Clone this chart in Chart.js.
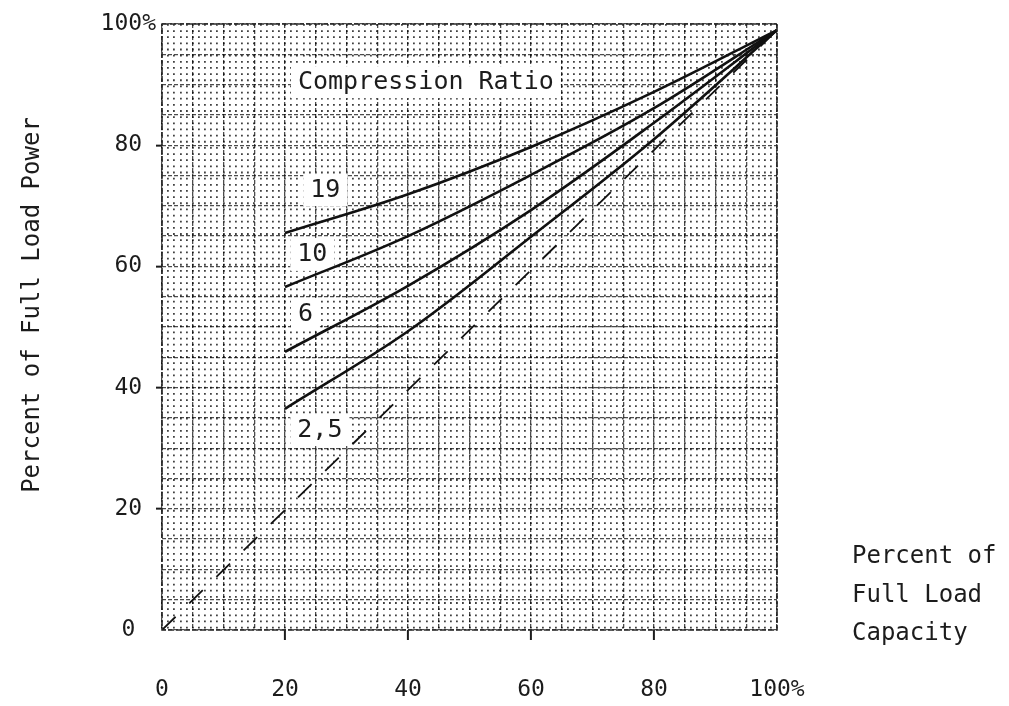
<!DOCTYPE html>
<html>
<head>
<meta charset="utf-8">
<script src="https://cdn.jsdelivr.net/npm/chart.js@4.4.1/dist/chart.umd.min.js"></script>
<style>
  html, body { margin: 0; padding: 0; background: #fff; }
</style>
</head>
<body>
<canvas id="powerChart" width="1009" height="706"></canvas>
<script>
// capacity (x, %) and power (y, %)
const capacity = [20, 40, 60, 80, 100];
const ratio19 = [65.5, 71.9, 79.7, 88.8, 99];
const ratio10 = [56.6, 65.0, 75.1, 86.1, 99];
const ratio6 = [45.9, 56.8, 69.3, 83.7, 99];
const ratio2_5 = [36.5, 49.3, 64.9, 81.0, 99];
const diagonalX = [0, 100];
const diagonalY = [0, 99];

const tickValues = [0, 20, 40, 60, 80, 100];
const tickLabels = ['0', '20', '40', '60', '80', '100%'];
const markedTicks = [20, 40, 60, 80];

// in-plot labels, anchored in data units
const noteText = ['Compression Ratio', '19', '10', '6', '2,5'];
const noteX = [22.1, 24.1, 22.0, 22.1, 22.0];
const noteY = [90.4, 72.6, 61.9, 52.0, 33.0];

const FONT = "'DejaVu Sans Mono', monospace";
const INK = '#1c1c1c';

const toPoints = (xs, ys) => xs.map((v, i) => ({ x: v, y: ys[i] }));
const tickText = v => {
    const i = tickValues.indexOf(v);
    return i >= 0 ? tickLabels[i] : '';
};

const paperPlugin = {
    id: 'paper',
    beforeDatasetsDraw(chart) {
        const { ctx, scales: { x, y } } = chart;
        ctx.save();
        ctx.font = '25px ' + FONT;
        ctx.textBaseline = 'middle';
        noteText.forEach((t, i) => {
            const px = x.getPixelForValue(noteX[i]);
            const py = y.getPixelForValue(noteY[i]);
            const w = ctx.measureText(t).width;
            ctx.fillStyle = '#fff';
            ctx.fillRect(px - 7, py - 16, w + 14, 32);
            ctx.fillStyle = INK;
            ctx.fillText(t, px, py);
        });
        ctx.restore();
    },
    afterDatasetsDraw(chart) {
        const { ctx, chartArea: a } = chart;
        ctx.save();
        ctx.strokeStyle = '#2a2a2a';
        ctx.lineWidth = 1.6;
        ctx.setLineDash([6, 2]);
        ctx.strokeRect(a.left, a.top, a.right - a.left, a.bottom - a.top);
        ctx.restore();
    },
    afterDraw(chart) {
        const { ctx } = chart;
        ctx.save();
        ctx.fillStyle = INK;
        ctx.font = '24px ' + FONT;
        ctx.textBaseline = 'middle';
        ctx.save();
        ctx.translate(33, 305);
        ctx.rotate(-Math.PI / 2);
        ctx.textAlign = 'center';
        ctx.fillText('Percent of Full Load Power', 0, 0);
        ctx.restore();
        ctx.textAlign = 'left';
        ctx.fillText('Percent of', 852, 557);
        ctx.fillText('Full Load', 852, 596);
        ctx.fillText('Capacity', 852, 634);
        ctx.restore();
    }
};

Chart.defaults.font.family = FONT;
Chart.defaults.color = INK;

const curve = (data) => ({
    data: data,
    borderColor: '#111',
    borderWidth: 2.6,
    pointRadius: 0,
    tension: 0.35,
    fill: false
});

new Chart(document.getElementById('powerChart'), {
    type: 'line',
    data: {
        datasets: [
            curve(toPoints(capacity, ratio19)),
            curve(toPoints(capacity, ratio10)),
            curve(toPoints(capacity, ratio6)),
            curve(toPoints(capacity, ratio2_5)),
            {
                data: toPoints(diagonalX, diagonalY),
                borderColor: '#111',
                borderWidth: 1.8,
                borderDash: [19, 19],
                pointRadius: 0,
                fill: false
            }
        ]
    },
    options: {
        responsive: false,
        animation: false,
        devicePixelRatio: 1,
        layout: { padding: { top: 24, right: 232, bottom: 0, left: 0 } },
        plugins: { legend: { display: false }, tooltip: { enabled: false } },
        scales: {
            x: {
                type: 'linear',
                position: 'bottom',
                min: 0,
                max: 100,
                afterFit: s => { s.height = 76; },
                border: { display: false, dash: [1.8, 4.35] },
                grid: {
                    color: 'rgba(0,0,0,0.75)',
                    lineWidth: 1.8,
                    tickLength: 10,
                    tickWidth: 2,
                    tickColor: c => markedTicks.includes(c.tick.value) ? INK : 'rgba(0,0,0,0)'
                },
                ticks: {
                    stepSize: 1,
                    autoSkip: false,
                    maxRotation: 0,
                    padding: 36,
                    font: { size: 23 },
                    callback: v => tickText(v)
                }
            },
            x2: {
                type: 'linear',
                position: 'bottom',
                min: 0,
                max: 100,
                afterFit: s => { s.height = 0; },
                border: { display: false, dash: [4, 2] },
                grid: { color: 'rgba(0,0,0,0.7)', lineWidth: 1.3, drawTicks: false },
                ticks: { stepSize: 5, autoSkip: false, display: false }
            },
            y: {
                type: 'linear',
                min: 0,
                max: 100,
                afterFit: s => { s.width = 162; },
                border: { display: false, dash: [4, 2] },
                grid: {
                    color: 'rgba(0,0,0,0.7)',
                    lineWidth: 1.3,
                    tickLength: 6,
                    tickWidth: 2,
                    tickColor: c => markedTicks.includes(c.tick.value) ? INK : 'rgba(0,0,0,0)'
                },
                ticks: {
                    stepSize: 5,
                    autoSkip: false,
                    padding: 0,
                    crossAlign: 'center',
                    font: { size: 23 },
                    callback: v => tickText(v)
                }
            }
        }
    },
    plugins: [paperPlugin]
});
</script>
</body>
</html>
